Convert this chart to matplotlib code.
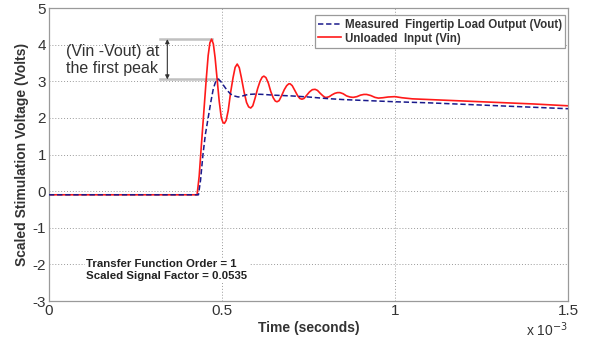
import matplotlib
matplotlib.use("Agg")
import matplotlib.pyplot as plt

plt.rcParams['font.family'] = ['Liberation Sans', 'DejaVu Sans']
plt.rcParams['axes.unicode_minus'] = False

# time in ms (axis shown as seconds x 10^-3)
t_vin = [0, 0.428, 0.434, 0.440, 0.447, 0.454, 0.460, 0.465, 0.470, 0.475, 0.480, 0.486,
         0.492, 0.498, 0.503, 0.507, 0.512, 0.518, 0.525, 0.532, 0.538, 0.544, 0.550,
         0.556, 0.564, 0.571, 0.577, 0.583, 0.589, 0.596, 0.603, 0.610, 0.616, 0.621,
         0.627, 0.634, 0.641, 0.648, 0.654, 0.659, 0.665, 0.672, 0.680, 0.687, 0.693,
         0.697, 0.703, 0.711, 0.719, 0.725, 0.731, 0.737, 0.745, 0.753, 0.761, 0.769,
         0.776, 0.784, 0.792, 0.798, 0.803, 0.810, 0.818, 0.826, 0.834, 0.841, 0.850,
         0.860, 0.870, 0.879, 0.890, 0.900, 0.910, 0.918, 0.930, 0.942, 0.952, 0.965,
         0.980, 1.000, 1.020, 1.050, 1.100, 1.200, 1.300, 1.400, 1.500]
v_in = [-0.1, -0.1, 0.4, 1.2, 2.1, 3.0, 3.7, 4.05, 4.15, 4.02, 3.65, 3.05,
        2.45, 2.0, 1.87, 1.85, 1.93, 2.2, 2.7, 3.1, 3.38, 3.47, 3.37,
        3.1, 2.7, 2.42, 2.3, 2.27, 2.33, 2.55, 2.8, 3.0, 3.11, 3.14,
        3.1, 2.95, 2.72, 2.55, 2.46, 2.44, 2.47, 2.6, 2.77, 2.88, 2.93,
        2.93, 2.88, 2.74, 2.6, 2.53, 2.51, 2.53, 2.62, 2.71, 2.77, 2.78,
        2.75, 2.67, 2.6, 2.56, 2.56, 2.58, 2.63, 2.67, 2.69, 2.69, 2.66,
        2.6, 2.57, 2.56, 2.58, 2.62, 2.64, 2.64, 2.61, 2.56, 2.54, 2.55,
        2.57, 2.58, 2.55, 2.52, 2.50, 2.46, 2.42, 2.38, 2.33]

t_vout = [0, 0.432, 0.438, 0.445, 0.452, 0.460, 0.468, 0.475, 0.482, 0.489, 0.496,
          0.505, 0.515, 0.525, 0.535, 0.547, 0.560, 0.575, 0.595, 0.620, 0.650,
          0.700, 0.750, 0.800, 0.850, 0.900, 1.000, 1.100, 1.200, 1.300, 1.400, 1.500]
v_out = [-0.1, -0.1, 0.3, 1.0, 1.55, 2.0, 2.45, 2.8, 3.0, 3.06, 3.0,
         2.88, 2.75, 2.65, 2.6, 2.57, 2.6, 2.64, 2.65, 2.64, 2.62,
         2.6, 2.57, 2.53, 2.5, 2.48, 2.44, 2.41, 2.37, 2.33, 2.29, 2.25]

x_ticks = [0, 0.5, 1, 1.5]
x_tick_labels = ['0', '0.5', '1', '1.5']
y_ticks = [-3, -2, -1, 0, 1, 2, 3, 4, 5]

vin_peak = 4.15
vout_peak = 3.05
t_vin_peak = 0.470
t_vout_peak = 0.489

fig = plt.figure(figsize=(5.89, 3.45), dpi=100)
ax = fig.add_axes([0.0832, 0.1275, 0.8811, 0.8493])

ax.plot(t_vout, v_out, color='#1a1a8c', lw=1.1, ls=(0, (3.5, 1.8)),
        label='Measured  Fingertip Load Output (Vout)', zorder=3)
ax.plot(t_vin, v_in, color='#ff1a1a', lw=1.2,
        label='Unloaded  Input (Vin)', zorder=2)

ax.set_xlim(0, 1.5)
ax.set_ylim(-3, 5)
ax.set_xticks(x_ticks)
ax.set_xticklabels(x_tick_labels)
ax.set_yticks(y_ticks)
ax.tick_params(axis='both', length=0, labelsize=11, colors='#333333', pad=2)
ax.grid(True, ls=(0, (1, 2)), color='#9a9a9a', lw=0.7)
for s in ax.spines.values():
    s.set_color('#9a9a9a')
    s.set_linewidth(0.9)

ax.set_xlabel('Time (seconds)', fontsize=10, fontweight='bold', color='#333333', labelpad=2)
ax.set_ylabel('Scaled Stimulation Voltage (Volts)', fontsize=10, fontweight='bold',
              color='#333333')
ax.yaxis.set_label_coords(-0.039, 0.5)
ax.text(1.5, -3.78, r'x 10$^{-3}$', fontsize=10, color='#333333', ha='right', va='center')

leg = ax.legend(loc='upper right', bbox_to_anchor=(0.995, 0.975),
                prop={'weight': 'bold', 'size': 8.3}, handlelength=2.0, handletextpad=0.3,
                labelspacing=0.15, borderpad=0.3, fancybox=False, framealpha=1,
                edgecolor='#9a9a9a', borderaxespad=0)
leg.get_frame().set_linewidth(0.9)
for txt in leg.get_texts():
    txt.set_color('#333333')

# peak difference annotation
ax.plot([0.32, t_vin_peak], [vin_peak, vin_peak], color='#c0c0c0', lw=1.8, zorder=1)
ax.plot([0.32, t_vout_peak], [vout_peak, vout_peak], color='#c0c0c0', lw=1.8, zorder=1)
ax.annotate('', xy=(0.342, vin_peak), xytext=(0.342, vout_peak),
            arrowprops=dict(arrowstyle='<|-|>', color='#333333', lw=0.8,
                            mutation_scale=6, shrinkA=0, shrinkB=0))
ax.text(0.049, 3.58, '(Vin -Vout) at\nthe first peak', fontsize=11.5, color='#333333',
        ha='left', va='center', linespacing=1.1)

ax.text(0.107, -2.15, 'Transfer Function Order = 1\nScaled Signal Factor = 0.0535',
        fontsize=8.2, fontweight='bold', color='#222222', ha='left', va='center',
        linespacing=1.2, bbox=dict(facecolor='white', edgecolor='none', pad=1))

fig.savefig('out.png', dpi=100)
